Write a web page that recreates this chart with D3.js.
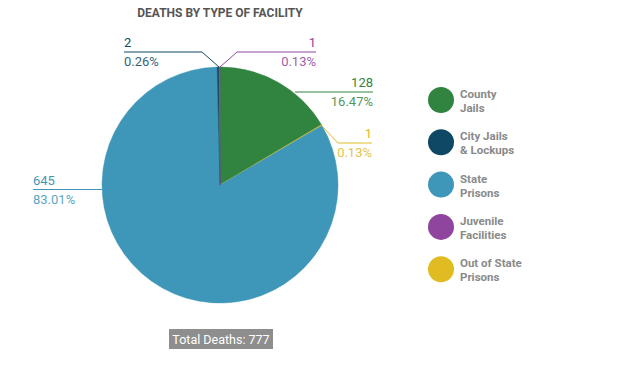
<!DOCTYPE html>
<html>
<head>
<meta charset="utf-8">
<script src="https://cdn.jsdelivr.net/npm/d3@7"></script>
<style>
  body { margin: 0; background: #fff; }
  text { font-family: Roboto, "Noto Sans", sans-serif; }
</style>
</head>
<body>
<svg></svg>
<script>
const w = 624
const h = 368

// data, in clockwise order from 12 o'clock
const categories = ['County Jails', 'Out of State Prisons', 'State Prisons', 'City Jails & Lockups', 'Juvenile Facilities']
const values = [128, 1, 645, 2, 1]
const colors = ['#31843f', '#e0bb22', '#3e97b8', '#0f4864', '#8f459d']
const legendOrder = [
  ['County', 'Jails'],
  ['City Jails', '& Lockups'],
  ['State', 'Prisons'],
  ['Juvenile', 'Facilities'],
  ['Out of State', 'Prisons']
]
const legendColors = ['#31843f', '#0f4864', '#3e97b8', '#8f459d', '#e0bb22']
const total = d3.sum(values)

const svg = d3.select('svg')
  .attr('width', w)
  .attr('height', h);

const cx = 220, cy = 185, r = 118;

svg.append('text')
  .attr('x', cx).attr('y', 17)
  .attr('text-anchor', 'middle')
  .attr('font-size', 12)
  .attr('font-weight', 'bold')
  .attr('fill', '#555')
  .text('DEATHS BY TYPE OF FACILITY');

const pie = d3.pie().sort(null).value(d => d)
const arcs = pie(values)
const arc = d3.arc().innerRadius(0).outerRadius(r)

const g = svg.append('g').attr('transform', `translate(${cx},${cy})`)

g.selectAll('path').data(arcs)
  .enter().append('path')
  .attr('d', arc)
  .attr('fill', (d, i) => colors[i])
  .attr('stroke', (d, i) => colors[i])
  .attr('stroke-width', 0.5);

// label layout (relative to center): leader line points, text x, anchor
const labelSpec = [
  {line: [[75, -93], [153, -93]], tx: 153, anchor: 'end'},
  {line: [[102, -59], [118, -42], [152, -42]], tx: 152, anchor: 'end'},
  {line: [[-118, 4.5], [-187, 4.5]], tx: -187, anchor: 'start'},
  {line: [[-1, -118], [-18, -133], [-96, -133]], tx: -96, anchor: 'start'},
  {line: [[0, -118], [17, -133], [96, -133]], tx: 96, anchor: 'end'}
]

arcs.forEach((a, i) => {
  const s = labelSpec[i]
  const ly = s.line[s.line.length - 1][1]
  g.append('path')
    .attr('d', d3.line()(s.line))
    .attr('fill', 'none')
    .attr('stroke', colors[i])
    .attr('stroke-width', 1);
  g.append('text')
    .attr('x', s.tx).attr('y', ly - 5)
    .attr('text-anchor', s.anchor)
    .attr('font-size', 13)
    .attr('fill', colors[i])
    .text(values[i]);
  g.append('text')
    .attr('x', s.tx).attr('y', ly + 14)
    .attr('text-anchor', s.anchor)
    .attr('font-size', 13)
    .attr('fill', colors[i])
    .attr('opacity', 0.85)
    .text(d3.format('.2f')(values[i] / total * 100) + '%');
})

// legend
const legend = svg.append('g')
legendOrder.forEach((lines, i) => {
  const y = 100 + i * 42.3
  legend.append('circle')
    .attr('cx', 441).attr('cy', y).attr('r', 13)
    .attr('fill', legendColors[i]);
  lines.forEach((t, j) => {
    legend.append('text')
      .attr('x', 460).attr('y', y - 2 + j * 14)
      .attr('font-size', 11.5)
      .attr('font-weight', 'bold')
      .attr('fill', '#8a8a8a')
      .text(t);
  })
})

// total box
svg.append('rect')
  .attr('x', 169).attr('y', 329)
  .attr('width', 104).attr('height', 20)
  .attr('fill', '#8e8e8e');
svg.append('text')
  .attr('x', 221).attr('y', 343.5)
  .attr('text-anchor', 'middle')
  .attr('font-size', 12.5)
  .attr('fill', '#fff')
  .text('Total Deaths: ' + total);
</script>
</body>
</html>
